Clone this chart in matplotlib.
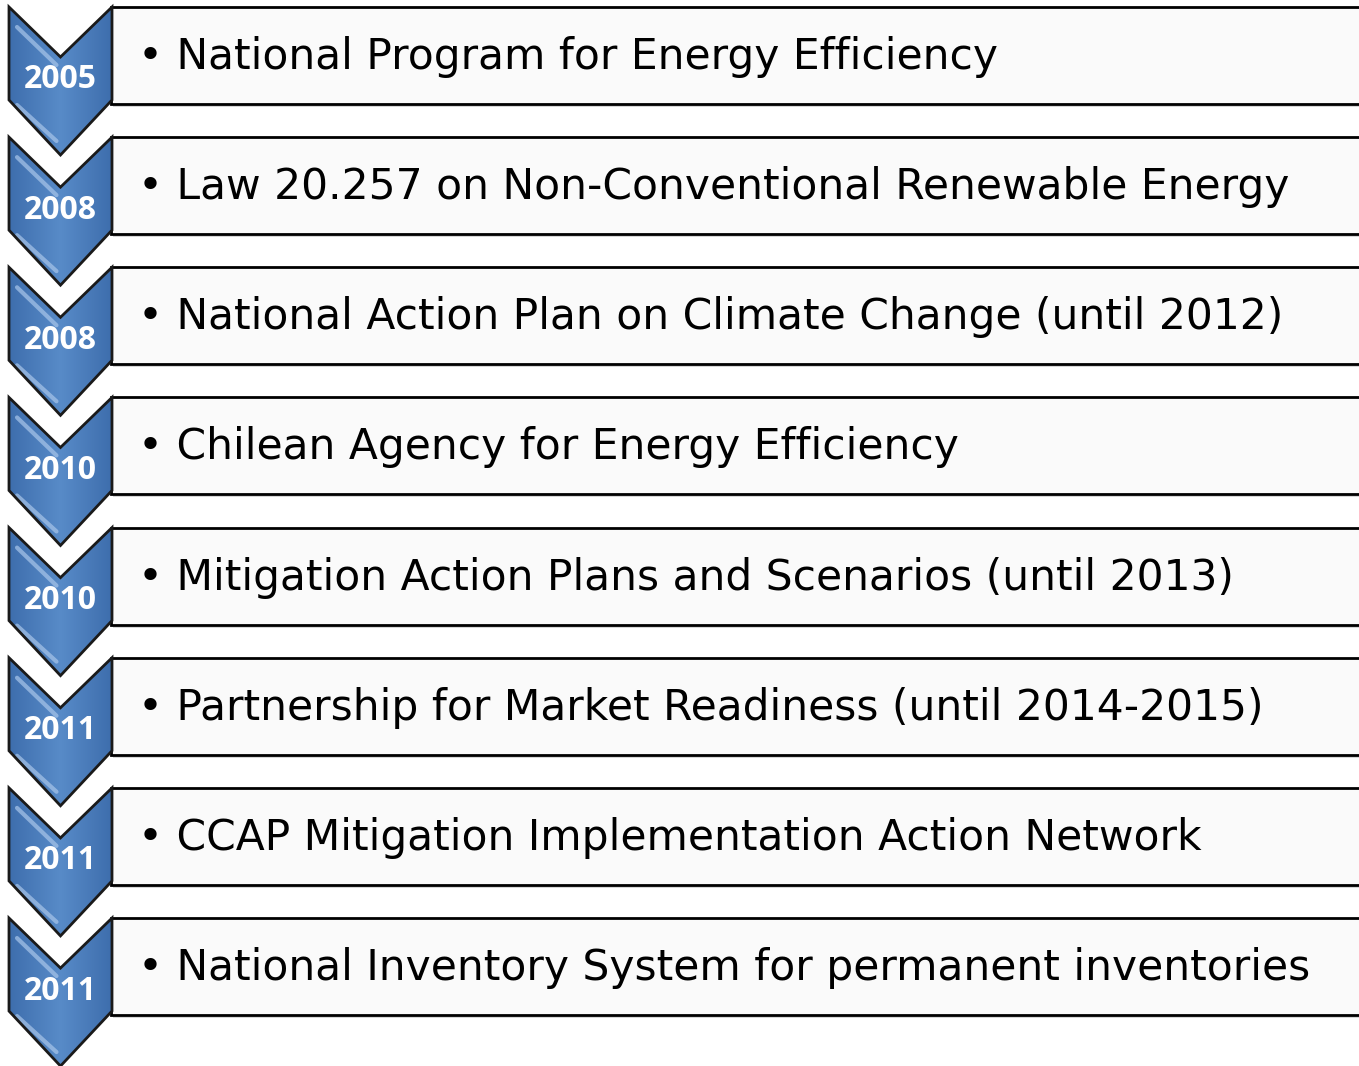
import matplotlib
matplotlib.use("Agg")
import matplotlib.pyplot as plt
import numpy as np
from matplotlib.patches import Polygon, Rectangle

years = ["2005", "2008", "2008", "2010", "2010", "2011", "2011", "2011"]
items = [
    "National Program for Energy Efficiency",
    "Law 20.257 on Non-Conventional Renewable Energy",
    "National Action Plan on Climate Change (until 2012)",
    "Chilean Agency for Energy Efficiency",
    "Mitigation Action Plans and Scenarios (until 2013)",
    "Partnership for Market Readiness (until 2014-2015)",
    "CCAP Mitigation Implementation Action Network",
    "National Inventory System for permanent inventories",
]

W, H = 1359, 1066
fig = plt.figure(figsize=(W / 100, H / 100), dpi=100)
ax = fig.add_axes([0, 0, 1, 1])
ax.set_xlim(0, W)
ax.set_ylim(H, 0)
ax.axis("off")

step = 130.15
top0 = 7
cx_l, cx_r = 9, 112
cmid = (cx_l + cx_r) / 2
notch = 50
side = 93
tip = 148

# gradient image for chevrons
gx = np.linspace(0, 1, 64)
grad = np.zeros((2, 64, 3))
c_edge = np.array([0x3E, 0x6E, 0xAD]) / 255
c_mid = np.array([0x58, 0x8B, 0xC8]) / 255
prof = 1 - np.abs(gx - 0.5) * 2
for k in range(2):
    grad[k] = c_edge + (c_mid - c_edge) * prof[:, None]

for i, (yr, txt) in enumerate(zip(years, items)):
    t = top0 + i * step
    # text box
    box = Rectangle((111, t), 1400, 97, facecolor="#FAFAFA", edgecolor="black",
                    linewidth=2, zorder=2)
    ax.add_patch(box)
    ax.add_patch(Rectangle((113, t + 97), 1400, 3, facecolor="#BBBBBB",
                           edgecolor="none", zorder=1, alpha=0.6))
    ax.text(138, t + 50, "\u2022 " + txt, fontsize=30.5, fontfamily="DejaVu Sans",
            va="center", ha="left", color="black", zorder=3)

    # chevron
    pts = [(cx_l, t), (cmid, t + notch), (cx_r, t), (cx_r, t + side),
           (cmid, t + tip), (cx_l, t + side)]
    poly = Polygon(pts, closed=True, facecolor="none", edgecolor="#1A1A1A",
                   linewidth=2, zorder=5, joinstyle="miter")
    clip = Polygon(pts, closed=True, facecolor="none", edgecolor="none")
    ax.add_patch(clip)
    im = ax.imshow(grad, extent=(cx_l, cx_r, t + tip, t), aspect="auto",
                   zorder=4, interpolation="bilinear")
    im.set_clip_path(clip)
    # highlight bevels
    ax.plot([cx_l + 8, cmid - 4], [t + 20, t + notch + 8], color="#A9C6EA",
            linewidth=3, alpha=0.7, zorder=4.5, solid_capstyle="round")
    ax.plot([cx_l + 8, cmid - 4], [t + side + 5, t + tip - 14], color="#A9C6EA",
            linewidth=3, alpha=0.7, zorder=4.5, solid_capstyle="round")
    ax.add_patch(poly)
    ax.text(cmid, t + 73, yr, fontsize=23, fontweight="bold", fontfamily="Open Sans",
            color="white", ha="center", va="center", zorder=6)

fig.savefig("out.png", dpi=100)
